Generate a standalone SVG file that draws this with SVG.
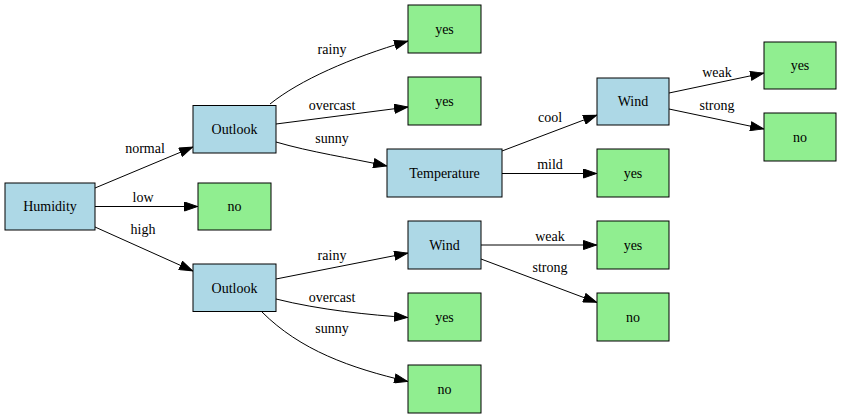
<svg xmlns="http://www.w3.org/2000/svg" width="842" height="419" viewBox="0 0 842 419">
<defs>
<marker id="ah" viewBox="0 0 14 10" refX="14" refY="5" markerWidth="14" markerHeight="10" markerUnits="userSpaceOnUse" orient="auto">
<path d="M0.5,0.5 L13.5,5 L0.5,9.5 Z" fill="#000" stroke="#000" stroke-width="1"/>
</marker>
<style>
.n rect{stroke:#000;stroke-width:1}
.d rect{fill:#add8e6}
.l rect{fill:#90ee90}
text{font-family:"Liberation Serif","DejaVu Serif","Times New Roman",Times,serif;font-size:14px;text-anchor:middle;fill:#000}
.e path{fill:none;stroke:#000;stroke-width:1;marker-end:url(#ah)}
</style>
</defs>
<rect width="842" height="419" fill="#fff"/>
<g class="e" id="edges">
<path d="M95,188 L193,147"/>
<path d="M95,206.5 L198,206.5"/>
<path d="M95,227 L193,271"/>
<path d="M270,104 C300,80 350,58 408,41"/>
<path d="M276,124 L408,107"/>
<path d="M276,142 C310,152 350,158 387,166"/>
<path d="M502,151 L597,115"/>
<path d="M502,173.5 L597,173.5"/>
<path d="M669,93 L764,73"/>
<path d="M669,109 L764,129"/>
<path d="M276,279 L408,253"/>
<path d="M276,299 C320,310 370,315 408,317.5"/>
<path d="M262,312 C300,350 350,368 408,381.5"/>
<path d="M481,245 L597,245"/>
<path d="M481,259 L597,302.5"/>
<text x="145" y="153" font-family="Liberation Serif">normal</text>
<text x="143" y="202" font-family="Liberation Serif">low</text>
<text x="143" y="234" font-family="Liberation Serif">high</text>
<text x="332" y="54" font-family="Liberation Serif">rainy</text>
<text x="332" y="110" font-family="Liberation Serif">overcast</text>
<text x="332" y="143" font-family="Liberation Serif">sunny</text>
<text x="550" y="122" font-family="Liberation Serif">cool</text>
<text x="550" y="169" font-family="Liberation Serif">mild</text>
<text x="717" y="77" font-family="Liberation Serif">weak</text>
<text x="717" y="110" font-family="Liberation Serif">strong</text>
<text x="332" y="260" font-family="Liberation Serif">rainy</text>
<text x="332" y="302" font-family="Liberation Serif">overcast</text>
<text x="332" y="333" font-family="Liberation Serif">sunny</text>
<text x="550" y="241" font-family="Liberation Serif">weak</text>
<text x="550" y="272" font-family="Liberation Serif">strong</text>
</g>
<g class="n d" id="humidity"><rect x="5" y="183" width="90" height="47"/><text x="50" y="211">Humidity</text></g>
<g class="n d" id="outlook1"><rect x="193" y="105.5" width="83" height="47.5"/><text x="234.5" y="134">Outlook</text></g>
<g class="n l" id="no_low"><rect x="198" y="183" width="73" height="47"/><text x="234.5" y="211">no</text></g>
<g class="n d" id="outlook2"><rect x="193" y="264" width="83" height="47.5"/><text x="234.5" y="292.5">Outlook</text></g>
<g class="n l" id="yes_rainy1"><rect x="408" y="5" width="73" height="48"/><text x="444.5" y="34">yes</text></g>
<g class="n l" id="yes_overcast1"><rect x="408" y="77" width="73" height="48"/><text x="444.5" y="106">yes</text></g>
<g class="n d" id="temperature"><rect x="387" y="149" width="115" height="48"/><text x="444.5" y="178">Temperature</text></g>
<g class="n d" id="wind1"><rect x="597" y="78" width="72" height="47"/><text x="633" y="106">Wind</text></g>
<g class="n l" id="yes_mild"><rect x="597" y="149" width="72" height="48"/><text x="633" y="178">yes</text></g>
<g class="n l" id="yes_weak1"><rect x="764" y="42" width="72" height="47"/><text x="800" y="70">yes</text></g>
<g class="n l" id="no_strong1"><rect x="764" y="113" width="72" height="48"/><text x="800" y="142">no</text></g>
<g class="n d" id="wind2"><rect x="408" y="221" width="73" height="48"/><text x="444.5" y="250">Wind</text></g>
<g class="n l" id="yes_overcast2"><rect x="408" y="293" width="73" height="48"/><text x="444.5" y="322">yes</text></g>
<g class="n l" id="no_sunny2"><rect x="408" y="365" width="73" height="48"/><text x="444.5" y="394">no</text></g>
<g class="n l" id="yes_weak2"><rect x="597" y="221" width="72" height="48"/><text x="633" y="250">yes</text></g>
<g class="n l" id="no_strong2"><rect x="597" y="293" width="72" height="48"/><text x="633" y="322">no</text></g>
</svg>
